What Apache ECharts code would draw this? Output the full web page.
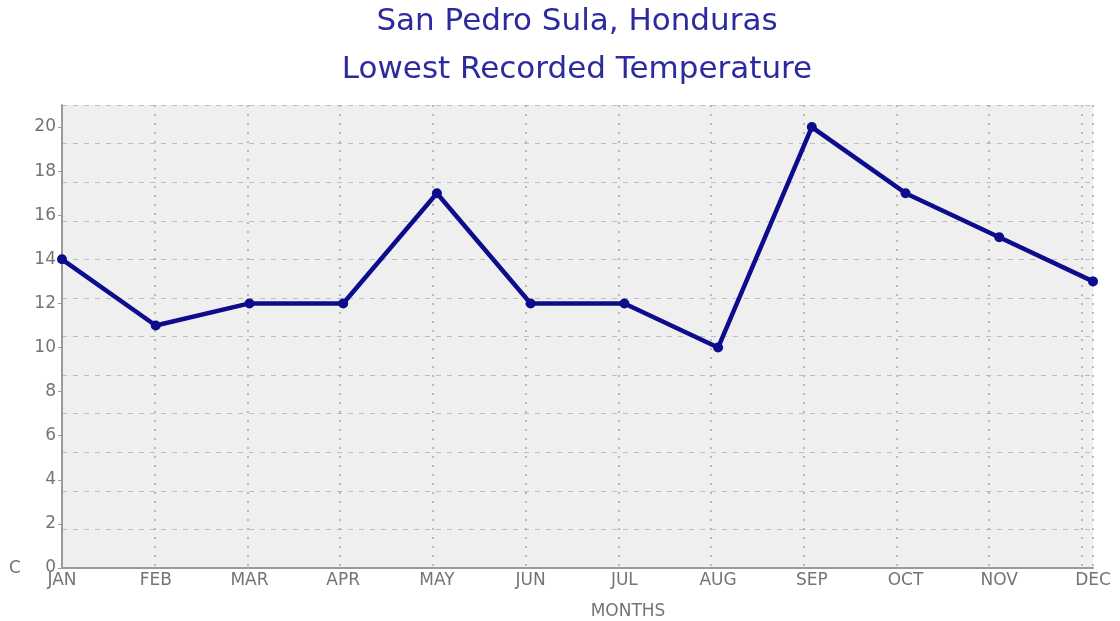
<!DOCTYPE html>
<html>
<head>
<meta charset="utf-8">
<script src="https://cdn.jsdelivr.net/npm/echarts@6/dist/echarts.min.js"></script>
<style>
  html, body { margin: 0; padding: 0; background: #fff; }
  #main { width: 1120px; height: 621px; }
</style>
</head>
<body>
<div id="main"></div>
<script>
// data
var months = ['JAN', 'FEB', 'MAR', 'APR', 'MAY', 'JUN', 'JUL', 'AUG', 'SEP', 'OCT', 'NOV', 'DEC'];
var lowestTemp = [14, 11, 12, 12, 17, 12, 12, 10, 20, 17, 15, 13];
var yTicks = [0, 2, 4, 6, 8, 10, 12, 14, 16, 18, 20];

var labelFont = 'DejaVu Sans';
var gray = '#747474';

var myChart = echarts.init(document.getElementById('main'));

var option = {
  animation: false,
  title: [
    {
      text: 'San Pedro Sula, Honduras',
      left: 572, top: 1, textAlign: 'center',
      textStyle: { fontFamily: labelFont, fontSize: 31, fontWeight: 'normal', color: '#2b2b9e' }
    },
    {
      text: 'Lowest Recorded Temperature',
      left: 572, top: 49, textAlign: 'center',
      textStyle: { fontFamily: labelFont, fontSize: 31, fontWeight: 'normal', color: '#2b2b9e' }
    },
    {
      text: 'MONTHS',
      left: 623, top: 598, textAlign: 'center',
      textStyle: { fontFamily: labelFont, fontSize: 17, fontWeight: 'normal', color: gray }
    },
    {
      text: 'C',
      left: 10, top: 555, textAlign: 'center',
      textStyle: { fontFamily: labelFont, fontSize: 17, fontWeight: 'normal', color: gray }
    }
  ],
  grid: {
    left: 62, right: 27, top: 105, bottom: 53,
    show: true, backgroundColor: '#efefef', borderWidth: 0
  },
  xAxis: [
    {
      type: 'category',
      data: months,
      boundaryGap: false,
      axisLine: { lineStyle: { color: '#9a9a9a', width: 2 } },
      axisTick: { show: false },
      axisLabel: { color: gray, fontFamily: labelFont, fontSize: 17, margin: 4 },
      splitLine: { show: false }
    },
    {
      // vertical dotted grid, spaced slightly tighter than the months
      type: 'value',
      position: 'top',
      min: 0, max: 11.12, interval: 1,
      axisLine: { show: false },
      axisTick: { show: false },
      axisLabel: { show: false },
      splitLine: { show: true, lineStyle: { color: '#a8a8a8', width: 1.5, type: [2, 7] } }
    }
  ],
  yAxis: [
    {
      type: 'value',
      min: 0, max: 21, interval: 2,
      axisLine: { show: true, lineStyle: { color: '#9a9a9a', width: 2 } },
      axisTick: { show: true, length: 4, customValues: yTicks, lineStyle: { color: '#9a9a9a' } },
      axisLabel: { color: gray, fontFamily: labelFont, fontSize: 17, margin: 6, customValues: yTicks },
      splitLine: { show: false }
    },
    {
      // horizontal dashed grid: 12 equal rows
      type: 'value',
      position: 'right',
      min: 0, max: 12, interval: 1,
      axisLine: { show: false },
      axisTick: { show: false },
      axisLabel: { show: false },
      splitLine: { show: true, lineStyle: { color: '#bdbdbd', width: 1.2, type: [5, 6] } }
    }
  ],
  series: [
    {
      name: 'Lowest',
      type: 'line',
      xAxisIndex: 0,
      yAxisIndex: 0,
      data: lowestTemp,
      symbol: 'circle',
      symbolSize: 10,
      lineStyle: { color: '#0c0c8c', width: 4.5 },
      itemStyle: { color: '#0c0c8c' }
    }
  ]
};

myChart.setOption(option);
</script>
</body>
</html>
